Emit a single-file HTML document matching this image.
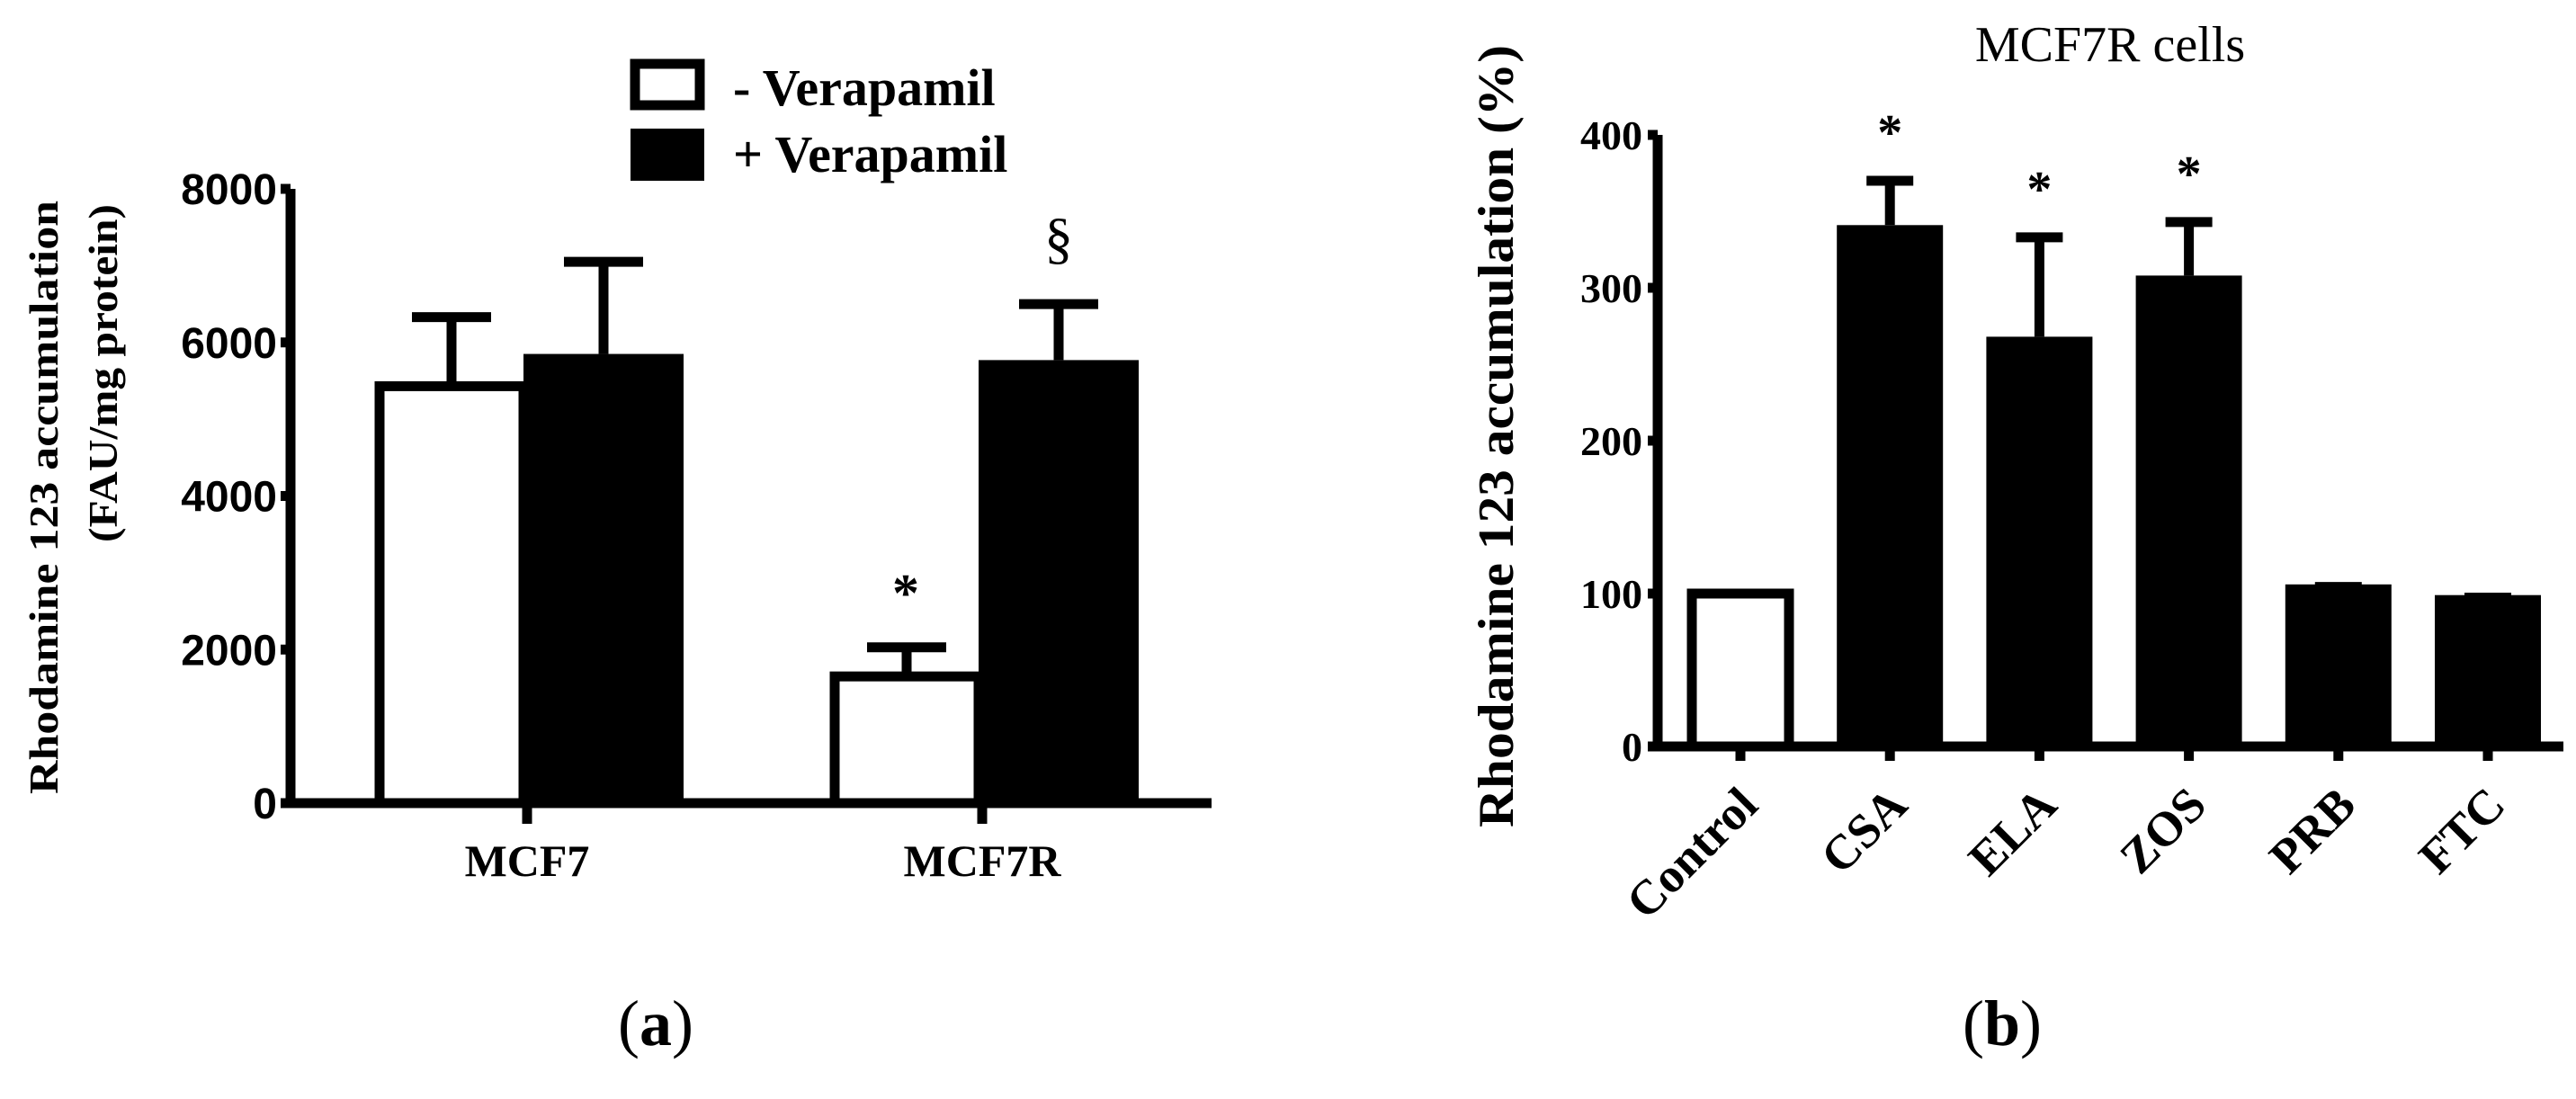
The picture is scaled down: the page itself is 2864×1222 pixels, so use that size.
<!DOCTYPE html>
<html><head><meta charset="utf-8"><style>
html,body{margin:0;padding:0;background:#fff;}
svg{display:block;}
text{fill:#000;}
.serif{font-family:"Liberation Serif",serif;font-weight:bold;}
.sans{font-family:"Liberation Sans",sans-serif;font-weight:bold;}
</style></head><body>
<svg id="fig" width="2864" height="1222" viewBox="0 0 2864 1222">
<g id="pa"></g>
<g id="pb"></g>
</svg>
<script>
// Panel (a) data
const aCategories = ["MCF7", "MCF7R"];
const aSeries = ["- Verapamil", "+ Verapamil"];
const aMinusVals = [5430, 1650];
const aMinusErr = [6330, 2030];
const aPlusVals = [5850, 5770];
const aPlusErr = [7050, 6500];
const aTicks = [0, 2000, 4000, 6000, 8000];
const aMarks = [["", ""], ["*", "§"]];
// Panel (b) data
const bCategories = ["Control", "CSA", "ELA", "ZOS", "PRB", "FTC"];
const bVals = [100, 341, 268, 308, 106, 99];
const bErr = [100, 370, 333, 343, 107, 100];
const bStars = ["", "*", "*", "*", "", ""];
const bTicks = [0, 100, 200, 300, 400];

const NS = "http://www.w3.org/2000/svg";
function mk(parent, tag, attrs, txt) {
  const e = document.createElementNS(NS, tag);
  for (const k in attrs) e.setAttribute(k, attrs[k]);
  if (txt !== undefined) e.textContent = txt;
  parent.appendChild(e);
  return e;
}
const SW = 11;

// ---------- Panel A ----------
const pa = document.getElementById('pa');
const ay = v => 893 - v / 8000 * 683;
const aCenters = [586, 1092];
const aHalf = 170;
for (let i = 0; i < aCategories.length; i++) {
  const c = aCenters[i];
  const x0 = c - aHalf + 6, x1 = c - 4;
  let r = mk(pa, 'rect', {x: x0, y: ay(aMinusVals[i]), width: x1 - x0, height: ay(0) - ay(aMinusVals[i]), fill: '#fff', stroke: '#000', 'stroke-width': SW});
  
  
  let mx = (x0 + x1) / 2;
  let e = mk(pa, 'path', {d: `M${mx},${ay(aMinusVals[i])}V${ay(aMinusErr[i])}M${mx-44},${ay(aMinusErr[i])}H${mx+44}`, stroke: '#000', 'stroke-width': SW, fill: 'none'});
  
  
  const p0 = c - 4, p1 = c + aHalf + 4;
  r = mk(pa, 'rect', {x: p0, y: ay(aPlusVals[i]), width: p1 - p0, height: ay(0) - ay(aPlusVals[i]), fill: '#000'});
  
  
  mx = (p0 + p1) / 2;
  e = mk(pa, 'path', {d: `M${mx},${ay(aPlusVals[i])}V${ay(aPlusErr[i])}M${mx-44},${ay(aPlusErr[i])}H${mx+44}`, stroke: '#000', 'stroke-width': SW, fill: 'none'});
  
  
  if (aMarks[i][0]) {
    const t = mk(pa, 'text', {x: (c - aHalf + c) / 2, y: ay(aMinusErr[i]) - 40, 'text-anchor': 'middle', 'font-size': 60, class: 'serif'}, aMarks[i][0]);
    
    
  }
  if (aMarks[i][1]) {
    const t = mk(pa, 'text', {x: mx, y: ay(aPlusErr[i]) - 52, 'text-anchor': 'middle', 'font-size': 64, class: 'serif', style: 'font-weight:normal'}, aMarks[i][1]);
    
    
  }
  const tk = mk(pa, 'line', {x1: c, x2: c, y1: ay(0), y2: 916, stroke: '#000', 'stroke-width': SW});
  
  
  const lb = mk(pa, 'text', {x: c, y: 974, 'text-anchor': 'middle', 'font-size': 50, class: 'serif'}, aCategories[i]);
  
  
}
let ax = mk(pa, 'path', {d: `M323,${ay(8000)}V${ay(0)}H1347`, stroke: '#000', 'stroke-width': SW, fill: 'none'});


for (const v of aTicks) {
  const l = mk(pa, 'line', {x1: 312, x2: 323, y1: ay(v), y2: ay(v), stroke: '#000', 'stroke-width': SW});
  
  
  const t = mk(pa, 'text', {x: 308, y: ay(v) + 17, 'text-anchor': 'end', 'font-size': 48, class: 'sans'}, String(v));
  
  
}
let yt = mk(pa, 'text', {transform: 'translate(64,553) rotate(-90)', 'text-anchor': 'middle', 'font-size': 46, class: 'serif', textLength: 660, lengthAdjust: 'spacingAndGlyphs'}, 'Rhodamine 123 accumulation');


yt = mk(pa, 'text', {transform: 'translate(130,415) rotate(-90)', 'text-anchor': 'middle', 'font-size': 46, class: 'serif', textLength: 376, lengthAdjust: 'spacingAndGlyphs'}, '(FAU/mg protein)');


let lg = mk(pa, 'rect', {x: 706, y: 71, width: 72, height: 46, fill: '#fff', stroke: '#000', 'stroke-width': SW});


lg = mk(pa, 'rect', {x: 701, y: 143, width: 82, height: 58, fill: '#000'});


lg = mk(pa, 'text', {x: 815, y: 117, 'font-size': 58, class: 'serif'}, aSeries[0]);


lg = mk(pa, 'text', {x: 815, y: 191, 'font-size': 58, class: 'serif'}, aSeries[1]);


let pl = mk(pa, 'text', {x: 729, y: 1162, 'text-anchor': 'middle', 'font-size': 72, class: 'serif', style: 'font-weight:normal'}, '(a)');


pl.innerHTML = '(<tspan font-weight="bold">a</tspan>)';

// ---------- Panel B ----------
const pb = document.getElementById('pb');
const by = v => 830 - v / 400 * 680;
const bx = i => 1935 + i * 166.2;
const bw = 118;
for (let i = 0; i < bCategories.length; i++) {
  const c = bx(i);
  let r;
  if (i === 0) {
    r = mk(pb, 'rect', {x: c - bw/2 + 5, y: by(bVals[i]), width: bw - 10, height: by(0) - by(bVals[i]), fill: '#fff', stroke: '#000', 'stroke-width': SW});
  } else {
    r = mk(pb, 'rect', {x: c - bw/2, y: by(bVals[i]), width: bw, height: by(0) - by(bVals[i]), fill: '#000'});
  }
  
  
  if (bErr[i] > bVals[i] + 1) {
    const e = mk(pb, 'path', {d: `M${c},${by(bVals[i])}V${by(bErr[i])}M${c-26},${by(bErr[i])}H${c+26}`, stroke: '#000', 'stroke-width': SW, fill: 'none'});
    
    
  } else if (i > 0) {
    const e = mk(pb, 'path', {d: `M${c-26},${by(bErr[i])+2}H${c+26}`, stroke: '#000', 'stroke-width': 6, fill: 'none'});
    
    
  }
  if (bStars[i]) {
    const t = mk(pb, 'text', {x: c, y: by(bErr[i]) - 35, 'text-anchor': 'middle', 'font-size': 56, class: 'serif'}, bStars[i]);
    
    
  }
  const tk = mk(pb, 'line', {x1: c, x2: c, y1: by(0), y2: 846, stroke: '#000', 'stroke-width': SW});
  
  
  const lb = mk(pb, 'text', {transform: `translate(${c+22},${898}) rotate(-45)`, 'text-anchor': 'end', 'font-size': 54, class: 'serif'}, bCategories[i]);
  
  
}
ax = mk(pb, 'path', {d: `M1843,${by(400)}V${by(0)}H2850`, stroke: '#000', 'stroke-width': SW, fill: 'none'});


for (const v of bTicks) {
  const l = mk(pb, 'line', {x1: 1832, x2: 1843, y1: by(v), y2: by(v), stroke: '#000', 'stroke-width': SW});
  
  
  const t = mk(pb, 'text', {x: 1826, y: by(v) + 16, 'text-anchor': 'end', 'font-size': 46, class: 'serif'}, String(v));
  
  
}
yt = mk(pb, 'text', {transform: 'translate(1682,485) rotate(-90)', 'text-anchor': 'middle', 'font-size': 56, class: 'serif', textLength: 870, lengthAdjust: 'spacingAndGlyphs'}, 'Rhodamine 123 accumulation (%)');


let tt = mk(pb, 'text', {x: 2346, y: 68, 'text-anchor': 'middle', 'font-size': 56, class: 'serif', style: 'font-weight:normal'}, 'MCF7R cells');


pl = mk(pb, 'text', {x: 2226, y: 1162, 'text-anchor': 'middle', 'font-size': 72, class: 'serif', style: 'font-weight:normal'}, '(b)');


pl.innerHTML = '(<tspan font-weight="bold">b</tspan>)';
</script>
</body></html>
